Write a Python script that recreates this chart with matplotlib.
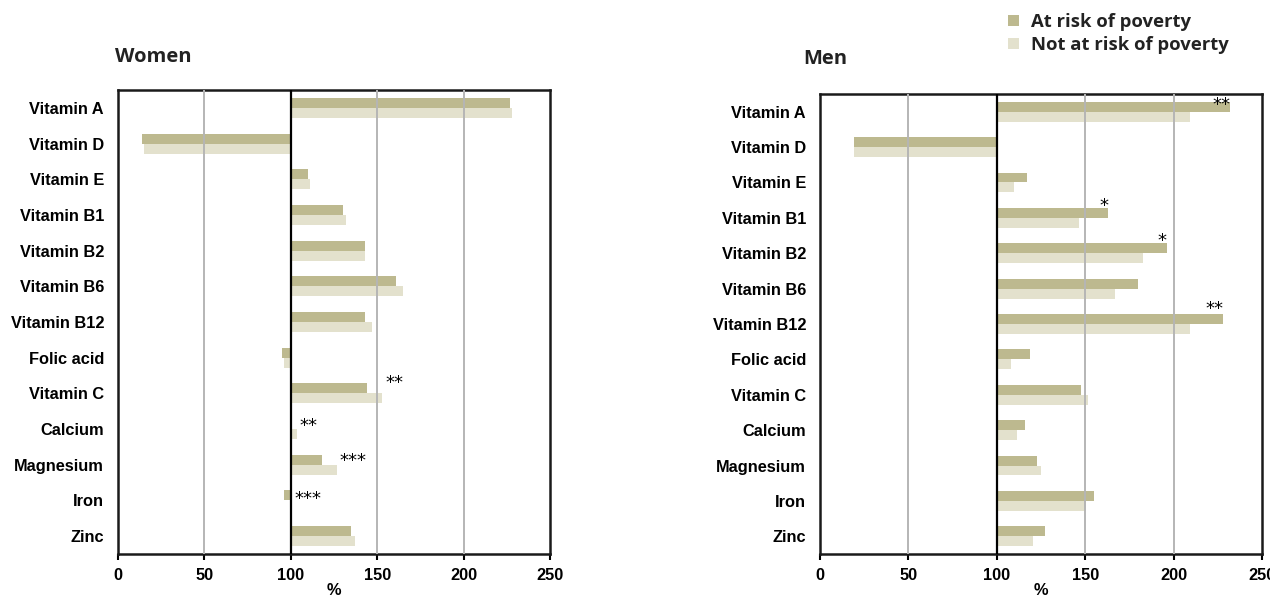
import matplotlib.pyplot as plt
import numpy as np

# =======================
# dados (% da ingestao recomendada)
# =======================
nutrientes = ['Vitamin A', 'Vitamin D', 'Vitamin E', 'Vitamin B1', 'Vitamin B2',
              'Vitamin B6', 'Vitamin B12', 'Folic acid', 'Vitamin C', 'Calcium',
              'Magnesium', 'Iron', 'Zinc']

mulheres_risco = [227, 14, 110, 130, 143, 161, 143, 95, 144, 100, 118, 96, 135]
mulheres_sem_risco = [228, 15, 111, 132, 143, 165, 147, 96, 153, 103.5, 126.5, 100.5, 137]

homens_risco = [232, 19.5, 117, 163, 196, 180, 228, 119, 147.5, 115.7, 122.7, 155, 127]
homens_sem_risco = [209.5, 19.5, 110, 146.6, 182.6, 167, 209.5, 108.3, 151.7, 111.4, 124.8, 150.6, 120.6]

# asteriscos de significancia: (nutriente, texto)
sig_mulheres = [('Vitamin C', '**'), ('Calcium', '**'), ('Magnesium', '***'), ('Iron', '***')]
sig_homens = [('Vitamin A', '**'), ('Vitamin B1', '*'), ('Vitamin B2', '*'), ('Vitamin B12', '**')]

x_ticks = [0, 50, 100, 150, 200, 250]
legenda = ['At risk of poverty', 'Not at risk of poverty']

cor_risco = '#bdb98f'
cor_sem_risco = '#e3e1cd'
fonte_titulo = 'Open Sans'
fonte_eixo = 'Liberation Sans'

# deslocamento vertical de cada asterisco (em unidades de linha)
desloc_mulheres = [-0.3, -0.1, -0.1, -0.05]
desloc_homens = [-0.2, -0.33, -0.35, -0.42]


# =======================
# desenhar um painel
# =======================
def desenhar_painel(ax, risco, sem_risco, sig, desloc, lado):
    y = np.arange(len(nutrientes))
    h = 0.28
    b1 = ax.barh(y - h / 2, np.array(risco) - 100, left=100, height=h,
                 color=cor_risco, zorder=2)
    b2 = ax.barh(y + h / 2, np.array(sem_risco) - 100, left=100, height=h,
                 color=cor_sem_risco, zorder=2)

    for xv in x_ticks:
        if xv in (0, 250):
            continue
        cor = 'black' if xv == 100 else '#b5b5b5'
        ax.axvline(xv, color=cor, lw=1.6 if xv == 100 else 1.4, zorder=3)

    # asteriscos
    for (nome, txt), dy in zip(sig, desloc):
        i = nutrientes.index(nome)
        if lado == 'esq':
            xt = max(risco[i], sem_risco[i]) + 1.5
            ax.text(xt, i + dy, txt, ha='left', va='center', fontsize=13,
                    family='DejaVu Sans', zorder=4)
        else:
            ax.text(risco[i], i + dy, txt, ha='right', va='center', fontsize=13,
                    family='DejaVu Sans', zorder=4)

    ax.set_xlim(0, 250)
    ax.set_ylim(len(nutrientes) - 0.5, -0.5)
    ax.set_xticks(x_ticks)
    ax.set_yticks(y)
    ax.set_yticklabels(nutrientes)
    ax.tick_params(axis='y', length=0, pad=10)
    ax.tick_params(axis='x', direction='out', length=4, width=1.5, pad=6)
    for lbl in ax.get_xticklabels() + ax.get_yticklabels():
        lbl.set_fontfamily(fonte_eixo)
        lbl.set_fontweight('bold')
        lbl.set_fontsize(11.8)
    for sp in ax.spines.values():
        sp.set_linewidth(1.8)
        sp.set_color('#1a1a1a')
    ax.set_xlabel('%', fontfamily=fonte_eixo, fontweight='bold', fontsize=11.8,
                  labelpad=0)
    return b1, b2


# =======================
# montar figura
# =======================
fig = plt.figure(figsize=(12.7, 5.99), dpi=100)
ax1 = fig.add_axes([118 / 1270, 1 - 554 / 599, 432 / 1270, 464 / 599])
ax2 = fig.add_axes([820 / 1270, 1 - 554 / 599, 442 / 1270, 460 / 599])

barras = desenhar_painel(ax1, mulheres_risco, mulheres_sem_risco, sig_mulheres,
                         desloc_mulheres, 'esq')
desenhar_painel(ax2, homens_risco, homens_sem_risco, sig_homens, desloc_homens, 'dir')

fig.text(115 / 1270, 1 - 57 / 599, 'Women', ha='left', va='center',
         fontsize=14.5, fontfamily=fonte_titulo, fontweight='bold', color='#222222')
fig.text(803 / 1270, 1 - 59 / 599, 'Men', ha='left', va='center',
         fontsize=14.5, fontfamily=fonte_titulo, fontweight='bold', color='#222222')

fig.legend(barras, legenda, loc='upper left', bbox_to_anchor=(1001 / 1270, 1 - 6 / 599),
           frameon=False, handlelength=0.55, handleheight=0.55, handletextpad=0.65,
           labelspacing=0.25, borderaxespad=0,
           prop={'family': fonte_titulo, 'weight': 'bold', 'size': 13.3})
for t in fig.legends[0].get_texts():
    t.set_color('#222222')

fig.savefig('out.png', dpi=100)
